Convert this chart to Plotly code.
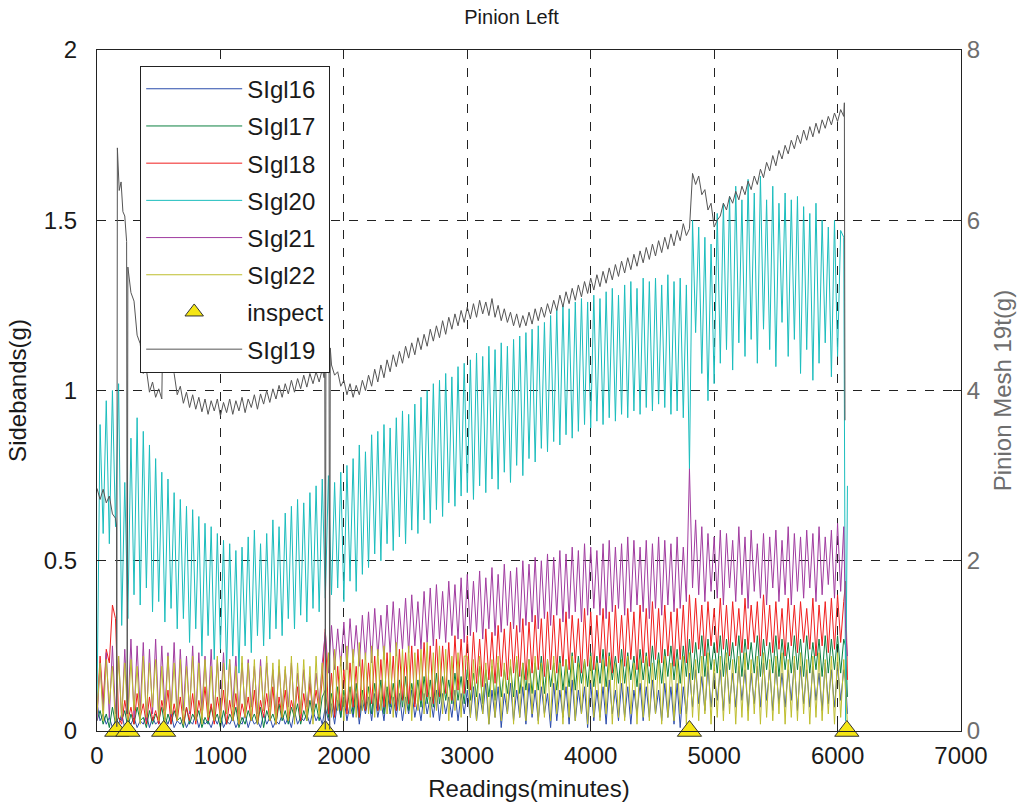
import plotly.graph_objects as go

# sample times (minutes) shared by the six sideband series: every 25 min, plus the final drop
minutes = list(range(0, 6051, 25)) + [6065, 6080]

sigl16 = [0.08, 0.03, 0.05, 0.02, 0.04, 0.01, 0.03, 0.02, 0.05, 0.01,
          0.03, 0.02, 0.04, 0.01, 0.03, 0.02, 0.05, 0.01, 0.04, 0.02,
          0.03, 0.01, 0.04, 0.02, 0.05, 0.01, 0.03, 0.02, 0.04, 0.01,
          0.03, 0.02, 0.05, 0.01, 0.04, 0.02, 0.03, 0.01, 0.04, 0.02,
          0.05, 0.01, 0.03, 0.02, 0.04, 0.01, 0.03, 0.02, 0.05, 0.01,
          0.04, 0.02, 0.03, 0.01, 0.05, 0.02, 0.04, 0.01, 0.03, 0.02,
          0.05, 0.02, 0.04, 0.01, 0.06, 0.02, 0.04, 0.03, 0.05, 0.02,
          0.06, 0.03, 0.05, 0.02, 0.07, 0.03, 0.08, 0.02, 0.09, 0.04,
          0.10, 0.03, 0.08, 0.04, 0.11, 0.02, 0.09, 0.05, 0.10, 0.03,
          0.11, 0.04, 0.09, 0.03, 0.12, 0.05, 0.10, 0.04, 0.11, 0.03,
          0.10, 0.05, 0.12, 0.04, 0.09, 0.03, 0.11, 0.05, 0.10, 0.04,
          0.12, 0.03, 0.11, 0.05, 0.10, 0.04, 0.12, 0.03, 0.11, 0.05,
          0.12, 0.04, 0.13, 0.03, 0.11, 0.05, 0.14, 0.02, 0.12, 0.04,
          0.13, 0.01, 0.11, 0.05, 0.14, 0.03, 0.12, 0.04, 0.13, 0.02,
          0.14, 0.04, 0.12, 0.03, 0.13, 0.05, 0.11, 0.01, 0.14, 0.03,
          0.12, 0.04, 0.13, 0.02, 0.15, 0.03, 0.12, 0.05, 0.13, 0.01,
          0.14, 0.03, 0.12, 0.04, 0.13, 0.02, 0.15, 0.05, 0.12, 0.03,
          0.14, 0.04, 0.13, 0.02, 0.12, 0.05, 0.14, 0.03, 0.13, 0.04,
          0.15, 0.05, 0.12, 0.03, 0.14, 0.04, 0.13, 0.02, 0.14, 0.01,
          0.13, 0.05, 0.17, 0.07, 0.18, 0.08, 0.16, 0.06, 0.19, 0.07,
          0.17, 0.09, 0.18, 0.06, 0.20, 0.08, 0.17, 0.07, 0.19, 0.09,
          0.18, 0.06, 0.17, 0.08, 0.19, 0.07, 0.20, 0.09, 0.18, 0.06,
          0.19, 0.08, 0.17, 0.07, 0.18, 0.09, 0.20, 0.06, 0.19, 0.08,
          0.18, 0.07, 0.19, 0.09, 0.17, 0.06, 0.20, 0.08, 0.18, 0.07,
          0.19, 0.09, 0.18,
          0.15, 0.05]

sigl17 = [0.03, 0.06, 0.02, 0.05, 0.01, 0.07, 0.02, 0.04, 0.03, 0.06,
          0.01, 0.05, 0.02, 0.07, 0.03, 0.04, 0.01, 0.06, 0.02, 0.05,
          0.03, 0.07, 0.01, 0.05, 0.02, 0.06, 0.03, 0.04, 0.01, 0.07,
          0.02, 0.05, 0.03, 0.06, 0.01, 0.04, 0.02, 0.07, 0.03, 0.05,
          0.01, 0.06, 0.02, 0.05, 0.03, 0.07, 0.01, 0.04, 0.02, 0.06,
          0.03, 0.05, 0.02, 0.07, 0.01, 0.06, 0.03, 0.05, 0.02, 0.08,
          0.03, 0.06, 0.02, 0.07, 0.04, 0.08, 0.02, 0.06, 0.03, 0.09,
          0.04, 0.08, 0.03, 0.10, 0.12, 0.04, 0.11, 0.05, 0.13, 0.04,
          0.12, 0.06, 0.13, 0.05, 0.14, 0.04, 0.12, 0.06, 0.13, 0.05,
          0.14, 0.06, 0.15, 0.05, 0.13, 0.07, 0.14, 0.06, 0.15, 0.07,
          0.16, 0.06, 0.14, 0.08, 0.15, 0.07, 0.16, 0.08, 0.15, 0.07,
          0.17, 0.08, 0.16, 0.09, 0.15, 0.08, 0.17, 0.09, 0.16, 0.08,
          0.18, 0.09, 0.17, 0.10, 0.19, 0.08, 0.18, 0.10, 0.19, 0.09,
          0.20, 0.10, 0.18, 0.11, 0.19, 0.10, 0.21, 0.11, 0.20, 0.12,
          0.21, 0.11, 0.20, 0.12, 0.22, 0.11, 0.21, 0.13, 0.20, 0.12,
          0.22, 0.12, 0.21, 0.13, 0.23, 0.12, 0.22, 0.14, 0.21, 0.13,
          0.23, 0.13, 0.22, 0.14, 0.24, 0.13, 0.23, 0.15, 0.22, 0.14,
          0.24, 0.14, 0.23, 0.15, 0.22, 0.13, 0.24, 0.15, 0.23, 0.14,
          0.25, 0.15, 0.23, 0.14, 0.24, 0.16, 0.25, 0.15, 0.24, 0.14,
          0.25, 0.16, 0.27, 0.15, 0.26, 0.17, 0.28, 0.16, 0.27, 0.18,
          0.26, 0.17, 0.28, 0.16, 0.27, 0.18, 0.26, 0.17, 0.28, 0.16,
          0.27, 0.18, 0.26, 0.17, 0.28, 0.16, 0.27, 0.18, 0.26, 0.17,
          0.28, 0.16, 0.27, 0.18, 0.26, 0.17, 0.28, 0.18, 0.27, 0.16,
          0.28, 0.17, 0.26, 0.18, 0.27, 0.16, 0.28, 0.17, 0.27, 0.18,
          0.28, 0.17, 0.27,
          0.25, 0.10]

sigl18 = [0.05, 0.22, 0.08, 0.24, 0.20, 0.37, 0.33, 0.04, 0.02, 0.09,
          0.03, 0.07, 0.02, 0.11, 0.04, 0.08, 0.02, 0.10, 0.03, 0.06,
          0.02, 0.09, 0.04, 0.12, 0.02, 0.08, 0.03, 0.10, 0.02, 0.07,
          0.03, 0.11, 0.02, 0.09, 0.04, 0.13, 0.03, 0.08, 0.02, 0.10,
          0.04, 0.12, 0.02, 0.09, 0.03, 0.11, 0.02, 0.08, 0.04, 0.10,
          0.03, 0.12, 0.02, 0.09, 0.04, 0.11, 0.03, 0.13, 0.02, 0.10,
          0.04, 0.12, 0.03, 0.09, 0.05, 0.13, 0.03, 0.11, 0.04, 0.14,
          0.05, 0.12, 0.06, 0.15, 0.30, 0.05, 0.17, 0.04, 0.19, 0.06,
          0.18, 0.05, 0.20, 0.07, 0.19, 0.04, 0.21, 0.06, 0.20, 0.08,
          0.22, 0.06, 0.21, 0.07, 0.23, 0.08, 0.22, 0.06, 0.24, 0.09,
          0.23, 0.08, 0.25, 0.07, 0.24, 0.09, 0.26, 0.10, 0.25, 0.08,
          0.27, 0.10, 0.25, 0.11, 0.26, 0.09, 0.28, 0.12, 0.27, 0.11,
          0.28, 0.12, 0.29, 0.14, 0.27, 0.13, 0.30, 0.15, 0.29, 0.14,
          0.31, 0.16, 0.30, 0.15, 0.32, 0.17, 0.31, 0.16, 0.33, 0.15,
          0.32, 0.17, 0.34, 0.18, 0.33, 0.16, 0.35, 0.18, 0.34, 0.17,
          0.33, 0.19, 0.35, 0.18, 0.34, 0.20, 0.33, 0.17, 0.36, 0.19,
          0.35, 0.18, 0.34, 0.20, 0.36, 0.19, 0.35, 0.17, 0.37, 0.20,
          0.34, 0.19, 0.36, 0.21, 0.35, 0.18, 0.37, 0.20, 0.36, 0.19,
          0.38, 0.21, 0.36, 0.20, 0.37, 0.22, 0.35, 0.19, 0.36, 0.21,
          0.37, 0.20, 0.40, 0.23, 0.39, 0.24, 0.37, 0.22, 0.38, 0.25,
          0.36, 0.23, 0.39, 0.24, 0.37, 0.22, 0.38, 0.25, 0.36, 0.23,
          0.39, 0.24, 0.37, 0.26, 0.38, 0.22, 0.40, 0.25, 0.37, 0.23,
          0.38, 0.24, 0.36, 0.22, 0.39, 0.25, 0.37, 0.23, 0.38, 0.26,
          0.36, 0.24, 0.39, 0.22, 0.37, 0.25, 0.38, 0.23, 0.39, 0.24,
          0.40, 0.26, 0.38,
          0.44, 0.15]

sigl20 = [0.08, 0.90, 0.58, 0.97, 0.55, 1.00, 0.60, 1.02, 0.31, 0.73,
          0.33, 0.86, 0.40, 0.92, 0.37, 0.88, 0.42, 0.84, 0.35, 0.80,
          0.38, 0.76, 0.32, 0.74, 0.36, 0.70, 0.30, 0.68, 0.33, 0.66,
          0.26, 0.65, 0.30, 0.63, 0.22, 0.61, 0.28, 0.60, 0.21, 0.58,
          0.24, 0.56, 0.18, 0.55, 0.22, 0.53, 0.17, 0.54, 0.25, 0.57,
          0.23, 0.59, 0.28, 0.55, 0.25, 0.58, 0.27, 0.62, 0.30, 0.60,
          0.28, 0.64, 0.33, 0.66, 0.30, 0.68, 0.34, 0.67, 0.32, 0.70,
          0.36, 0.72, 0.35, 0.74, 0.39, 0.75, 0.40, 0.73, 0.42, 0.76,
          0.38, 0.78, 0.44, 0.80, 0.41, 0.84, 0.46, 0.82, 0.48, 0.87,
          0.52, 0.88, 0.50, 0.90, 0.55, 0.89, 0.53, 0.92, 0.57, 0.94,
          0.55, 0.93, 0.59, 0.96, 0.58, 0.98, 0.62, 1.00, 0.61, 1.02,
          0.65, 1.03, 0.63, 1.05, 0.67, 1.04, 0.66, 1.07, 0.69, 1.08,
          0.70, 1.09, 0.68, 1.11, 0.72, 1.10, 0.70, 1.13, 0.74, 1.12,
          0.71, 1.14, 0.76, 1.13, 0.73, 1.15, 0.78, 1.16, 0.75, 1.17,
          0.80, 1.18, 0.79, 1.19, 0.83, 1.20, 0.82, 1.22, 0.85, 1.24,
          0.84, 1.25, 0.87, 1.24, 0.86, 1.26, 0.88, 1.27, 0.90, 1.26,
          0.89, 1.28, 0.91, 1.27, 0.90, 1.29, 0.92, 1.30, 0.91, 1.28,
          0.93, 1.31, 0.92, 1.32, 0.94, 1.30, 0.93, 1.33, 0.95, 1.32,
          0.94, 1.33, 0.96, 1.31, 0.95, 1.34, 0.93, 1.32, 0.94, 1.33,
          0.92, 1.31, 0.77, 1.50, 1.17, 1.48, 1.05, 1.45, 0.97, 1.43,
          1.02, 1.52, 1.08, 1.55, 1.12, 1.57, 1.06, 1.60, 1.14, 1.56,
          1.10, 1.62, 1.15, 1.58, 1.08, 1.63, 1.18, 1.56, 1.12, 1.60,
          1.07, 1.55, 1.20, 1.58, 1.10, 1.56, 1.15, 1.57, 1.05, 1.54,
          1.12, 1.52, 1.03, 1.55, 1.08, 1.50, 1.14, 1.48, 1.04, 1.50,
          1.10, 1.47, 1.45,
          0.03, 0.72]

sigl21 = [0.03, 0.20, 0.06, 0.23, 0.04, 0.25, 0.05, 0.22, 0.03, 0.24,
          0.05, 0.27, 0.04, 0.25, 0.06, 0.26, 0.03, 0.24, 0.05, 0.27,
          0.04, 0.25, 0.06, 0.23, 0.05, 0.26, 0.04, 0.24, 0.06, 0.22,
          0.05, 0.25, 0.04, 0.23, 0.06, 0.22, 0.05, 0.24, 0.04, 0.21,
          0.06, 0.23, 0.05, 0.21, 0.07, 0.22, 0.05, 0.20, 0.06, 0.21,
          0.07, 0.19, 0.05, 0.21, 0.06, 0.20, 0.07, 0.18, 0.05, 0.19,
          0.06, 0.18, 0.07, 0.20, 0.05, 0.17, 0.06, 0.18, 0.07, 0.16,
          0.06, 0.17, 0.08, 0.20, 0.29, 0.17, 0.31, 0.18, 0.30, 0.19,
          0.32, 0.18, 0.33, 0.20, 0.31, 0.19, 0.34, 0.21, 0.35, 0.20,
          0.36, 0.22, 0.34, 0.21, 0.37, 0.23, 0.38, 0.22, 0.36, 0.24,
          0.39, 0.23, 0.40, 0.25, 0.38, 0.24, 0.41, 0.26, 0.42, 0.25,
          0.43, 0.27, 0.41, 0.26, 0.44, 0.28, 0.43, 0.27, 0.45, 0.26,
          0.46, 0.28, 0.44, 0.29, 0.47, 0.27, 0.45, 0.30, 0.48, 0.28,
          0.46, 0.29, 0.49, 0.31, 0.47, 0.30, 0.48, 0.29, 0.50, 0.31,
          0.49, 0.32, 0.51, 0.30, 0.50, 0.33, 0.52, 0.31, 0.51, 0.34,
          0.53, 0.32, 0.52, 0.33, 0.54, 0.35, 0.53, 0.32, 0.55, 0.34,
          0.54, 0.36, 0.53, 0.34, 0.55, 0.33, 0.56, 0.35, 0.54, 0.36,
          0.55, 0.34, 0.57, 0.35, 0.56, 0.37, 0.54, 0.35, 0.56, 0.33,
          0.55, 0.36, 0.57, 0.34, 0.56, 0.37, 0.55, 0.35, 0.57, 0.36,
          0.54, 0.38, 0.77, 0.42, 0.62, 0.40, 0.60, 0.38, 0.58, 0.41,
          0.57, 0.39, 0.59, 0.37, 0.58, 0.42, 0.56, 0.38, 0.60, 0.40,
          0.57, 0.36, 0.59, 0.41, 0.55, 0.39, 0.58, 0.37, 0.57, 0.42,
          0.59, 0.38, 0.56, 0.40, 0.60, 0.37, 0.58, 0.41, 0.57, 0.39,
          0.59, 0.42, 0.58, 0.38, 0.60, 0.40, 0.57, 0.43, 0.59, 0.39,
          0.61, 0.41, 0.60,
          0.30, 0.22]

sigl22 = [0.05, 0.20, 0.03, 0.21, 0.08, 0.19, 0.02, 0.22, 0.04, 0.20,
          0.03, 0.21, 0.06, 0.19, 0.02, 0.22, 0.04, 0.20, 0.07, 0.21,
          0.03, 0.19, 0.02, 0.22, 0.05, 0.20, 0.03, 0.21, 0.02, 0.19,
          0.06, 0.22, 0.03, 0.20, 0.02, 0.21, 0.04, 0.19, 0.03, 0.22,
          0.02, 0.20, 0.05, 0.21, 0.03, 0.19, 0.02, 0.22, 0.04, 0.20,
          0.03, 0.21, 0.02, 0.19, 0.06, 0.22, 0.03, 0.20, 0.02, 0.21,
          0.04, 0.19, 0.03, 0.22, 0.02, 0.20, 0.05, 0.21, 0.03, 0.19,
          0.02, 0.22, 0.04, 0.20, 0.05, 0.23, 0.04, 0.24, 0.06, 0.22,
          0.03, 0.25, 0.05, 0.24, 0.04, 0.26, 0.06, 0.23, 0.05, 0.25,
          0.04, 0.24, 0.06, 0.25, 0.05, 0.23, 0.04, 0.26, 0.06, 0.24,
          0.05, 0.25, 0.03, 0.23, 0.06, 0.24, 0.05, 0.26, 0.04, 0.23,
          0.06, 0.25, 0.05, 0.24, 0.03, 0.22, 0.06, 0.23, 0.04, 0.22,
          0.22, 0.04, 0.21, 0.03, 0.22, 0.05, 0.20, 0.02, 0.21, 0.04,
          0.22, 0.03, 0.20, 0.05, 0.21, 0.02, 0.22, 0.04, 0.20, 0.03,
          0.21, 0.05, 0.22, 0.02, 0.20, 0.04, 0.21, 0.03, 0.22, 0.05,
          0.20, 0.02, 0.21, 0.04, 0.22, 0.03, 0.20, 0.05, 0.21, 0.02,
          0.22, 0.04, 0.20, 0.03, 0.21, 0.05, 0.22, 0.02, 0.20, 0.04,
          0.21, 0.03, 0.22, 0.05, 0.20, 0.02, 0.21, 0.04, 0.22, 0.03,
          0.20, 0.05, 0.21, 0.02, 0.22, 0.04, 0.20, 0.03, 0.21, 0.05,
          0.22, 0.02, 0.23, 0.04, 0.21, 0.03, 0.22, 0.05, 0.23, 0.02,
          0.21, 0.04, 0.22, 0.03, 0.23, 0.05, 0.21, 0.02, 0.22, 0.04,
          0.23, 0.03, 0.21, 0.05, 0.22, 0.02, 0.23, 0.04, 0.21, 0.03,
          0.22, 0.05, 0.23, 0.02, 0.21, 0.04, 0.22, 0.03, 0.23, 0.05,
          0.21, 0.02, 0.22, 0.04, 0.23, 0.03, 0.21, 0.05, 0.22, 0.02,
          0.23, 0.04, 0.21,
          0.12, 0.02]

# Pinion mesh 19t (right axis): irregular early readings, then every 25 min
sigl19_minutes = ([0, 25, 50, 75, 100, 125, 150, 158, 160, 165, 180, 195, 210, 225, 240, 245,
                   250, 275, 300, 325, 350, 375, 400, 425, 450, 475, 500, 525, 535, 550, 575,
                   600, 625, 650, 675, 700, 725, 750, 775, 800, 825, 850, 875, 900, 925, 950,
                   975, 1000, 1025, 1050, 1075, 1100, 1125, 1150, 1175, 1200, 1225, 1250, 1275,
                   1300, 1325, 1350, 1375, 1400, 1425, 1450, 1475, 1500, 1525, 1550, 1575, 1600,
                   1625, 1650, 1675, 1700, 1725, 1750, 1775, 1800, 1825, 1840, 1845, 1850, 1855,
                   1880, 1885, 1890]
                  + list(range(1900, 6051, 25)) + [6055, 6060])
sigl19 = [2.85, 2.72, 2.84, 2.68, 2.76, 2.55, 2.50, 2.42, 0.05, 6.85, 6.35, 6.45, 6.10, 6.05, 5.75, 0.20,
          5.45, 5.15, 5.05, 4.65, 4.55, 4.20, 4.25, 3.98, 4.10, 3.92, 4.02, 3.90, 4.90, 4.62, 4.55,
          4.25, 4.20, 3.95, 4.05, 3.85, 3.98, 3.80, 3.95, 3.78, 3.92, 3.75, 3.90, 3.72, 3.88, 3.76,
          3.90, 3.70, 3.86, 3.74, 3.90, 3.72, 3.88, 3.76, 3.92, 3.74, 3.90, 3.80, 3.95,
          3.78, 3.96, 3.84, 4.00, 3.86, 4.02, 3.90, 4.06, 3.92, 4.08, 3.96, 4.12, 3.98,
          4.14, 4.02, 4.18, 4.04, 4.20, 4.08, 4.22, 4.10, 4.25, 4.15, 4.80, 0.02, 4.75,
          4.45, 0.02, 4.50,
          4.30, 4.18, 4.22, 4.05, 4.12, 3.95, 4.08, 3.92, 4.06, 3.95,
          4.12, 4.00, 4.18, 4.05, 4.25, 4.10, 4.30, 4.15, 4.36, 4.22,
          4.42, 4.28, 4.46, 4.32, 4.52, 4.38, 4.56, 4.42, 4.62, 4.48,
          4.66, 4.52, 4.72, 4.58, 4.76, 4.62, 4.82, 4.66, 4.86, 4.72,
          4.90, 4.76, 4.94, 4.80, 4.98, 4.84, 5.02, 4.86, 5.06, 4.90,
          5.04, 4.88, 5.08, 4.86, 5.00, 4.82, 4.96, 4.80, 4.92, 4.76,
          4.90, 4.74, 4.88, 4.76, 4.92, 4.78, 4.96, 4.82, 4.98, 4.86,
          5.02, 4.90, 5.06, 4.94, 5.12, 4.98, 5.16, 5.02, 5.20, 5.06,
          5.24, 5.10, 5.28, 5.14, 5.32, 5.18, 5.36, 5.22, 5.40, 5.26,
          5.44, 5.30, 5.48, 5.34, 5.52, 5.38, 5.56, 5.42, 5.60, 5.46,
          5.64, 5.50, 5.68, 5.54, 5.72, 5.58, 5.76, 5.62, 5.80, 5.66,
          5.84, 5.70, 5.88, 5.76, 5.96, 5.82, 5.90, 6.55, 6.42, 6.52,
          6.30, 6.36, 6.12, 6.20, 5.92, 6.00, 6.05, 6.20, 6.12, 6.28,
          6.20, 6.34, 6.24, 6.40, 6.30, 6.46, 6.36, 6.52, 6.42, 6.60,
          6.50, 6.68, 6.58, 6.76, 6.64, 6.82, 6.72, 6.88, 6.78, 6.94,
          6.84, 7.00, 6.90, 7.06, 6.94, 7.10, 6.98, 7.14, 7.02, 7.18,
          7.08, 7.22, 7.12, 7.26, 7.16, 7.30, 7.22,
          7.38, 3.65]

inspect_minutes = [160, 250, 540, 1850, 4800, 6075]
inspect_values = [0, 0, 0, 0, 0, 0]

for s in (sigl16, sigl17, sigl18, sigl20, sigl21, sigl22):
    assert len(s) == len(minutes), len(s)
assert len(sigl19) == len(sigl19_minutes), (len(sigl19), len(sigl19_minutes))

series = [
    ("SIgl16", sigl16, "#2b4cab"),
    ("SIgl17", sigl17, "#0b8040"),
    ("SIgl18", sigl18, "#f01e1e"),
    ("SIgl20", sigl20, "#1bbdbd"),
    ("SIgl21", sigl21, "#a13ca0"),
    ("SIgl22", sigl22, "#bebe2e"),
]

fig = go.Figure()
for name, vals, col in series:
    fig.add_trace(go.Scatter(x=minutes, y=vals, mode="lines", name=name,
                             legendgroup=name,
                             line=dict(color=col, width=1)))

fig.add_trace(go.Scatter(x=inspect_minutes, y=inspect_values, mode="markers", name="inspect",
                         legendgroup="inspect", cliponaxis=False,
                         marker=dict(symbol="triangle-up", size=21, color="#f5e614",
                                     line=dict(color="#333333", width=1))))

fig.add_trace(go.Scatter(x=sigl19_minutes, y=sigl19, mode="lines", name="SIgl19",
                         legendgroup="SIgl19", yaxis="y2",
                         line=dict(color="#555555", width=1)))

font = "Liberation Sans, Arial, sans-serif"
fig.update_layout(
    width=1023, height=805, autosize=False,
    margin=dict(l=97, r=62, t=50, b=74, autoexpand=False),
    paper_bgcolor="white", plot_bgcolor="white",
    font=dict(family=font, size=24, color="#1a1a1a"),
    title=dict(text="Pinion Left", x=0.5, xanchor="center", y=1 - 17 / 805, yanchor="middle",
               font=dict(size=20, color="#1a1a1a")),
    showlegend=True,
    legend=dict(x=0.05, y=0.977, xanchor="left", yanchor="top", bgcolor="white",
                bordercolor="#222222", borderwidth=1, font=dict(size=24, color="#1a1a1a"),
                traceorder="grouped", tracegroupgap=3, itemwidth=96),
    xaxis=dict(range=[0, 7000], dtick=1000, tick0=0, showline=True, linecolor="#222222",
               linewidth=1, mirror="ticks", ticks="inside", ticklen=8, tickcolor="#222222",
               showgrid=True, gridcolor="#222222", griddash="dash", gridwidth=1,
               zeroline=False, ticklabelstandoff=3, tickfont=dict(size=24), automargin=False,
               title=dict(text="Readings(minutes)", standoff=12, font=dict(size=24))),
    yaxis=dict(range=[0, 2], dtick=0.5, tick0=0, showline=True, linecolor="#222222",
               linewidth=1, mirror=True, ticks="inside", ticklen=8, tickcolor="#222222",
               showgrid=True, gridcolor="#222222", griddash="dash", gridwidth=1,
               zeroline=False, ticklabelstandoff=14, tickfont=dict(size=24), automargin=False,
               title=dict(text="Sidebands(g)", standoff=10, font=dict(size=24))),
    yaxis2=dict(range=[0, 8], dtick=2, tick0=0, overlaying="y", side="right",
                showline=True, linecolor="#222222", linewidth=1,
                ticks="inside", ticklen=8, tickcolor="#222222",
                showgrid=False, zeroline=False, automargin=False,
                tickfont=dict(color="#6e6e6e", size=24),
                title=dict(text="Pinion Mesh 19t(g)", standoff=15,
                           font=dict(size=24, color="#6e6e6e"))),
)

fig.write_html("out.html")
